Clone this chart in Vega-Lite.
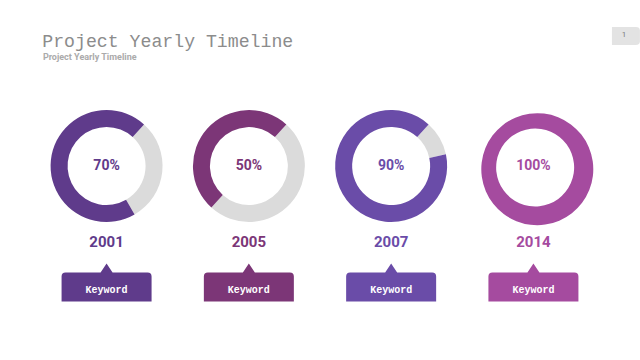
{
  "$schema": "https://vega.github.io/schema/vega-lite/v6.json",
  "width": 640,
  "height": 360,
  "autosize": {"type": "fit", "contains": "padding"},
  "padding": 0,
  "background": "white",
  "config": {"view": {"stroke": null}},
  "datasets": {
    "items": [
      {"year": "2001", "pct": 70, "label": "70%", "keyword": "Keyword", "color": "#5F3B8B"},
      {"year": "2005", "pct": 50, "label": "50%", "keyword": "Keyword", "color": "#7C3677"},
      {"year": "2007", "pct": 90, "label": "90%", "keyword": "Keyword", "color": "#6A4CA8"},
      {"year": "2014", "pct": 100, "label": "100%", "keyword": "Keyword", "color": "#A54B9F"}
    ],
    "parts": [
      {"year": "2001", "part": "rest", "order": 0, "value": 30},
      {"year": "2001", "part": "done", "order": 1, "value": 70},
      {"year": "2005", "part": "rest", "order": 0, "value": 50},
      {"year": "2005", "part": "done", "order": 1, "value": 50},
      {"year": "2007", "part": "rest", "order": 0, "value": 10},
      {"year": "2007", "part": "done", "order": 1, "value": 90},
      {"year": "2014", "part": "rest", "order": 0, "value": 0},
      {"year": "2014", "part": "done", "order": 1, "value": 100}
    ],
    "header": [
      {"title": "Project Yearly Timeline", "subtitle": "Project Yearly Timeline", "page": "1"}
    ]
  },
  "layer": [
    {
      "data": {"name": "header"},
      "mark": {"type": "text", "align": "left", "baseline": "alphabetic", "font": "Liberation Mono", "fontSize": 18.2, "color": "#8C8C8C"},
      "encoding": {
        "x": {"datum": 0.066, "type": "quantitative", "scale": {"domain": [0, 1]}, "axis": null},
        "y": {"datum": 47, "type": "quantitative", "scale": {"domain": [0, 360], "reverse": true}, "axis": null},
        "text": {"field": "title"}
      }
    },
    {
      "data": {"name": "header"},
      "mark": {"type": "text", "align": "left", "baseline": "alphabetic", "font": "Roboto", "fontWeight": "bold", "fontSize": 9, "color": "#ABABAB"},
      "encoding": {
        "x": {"datum": 0.067, "type": "quantitative", "scale": {"domain": [0, 1]}, "axis": null},
        "y": {"datum": 60, "type": "quantitative", "scale": {"domain": [0, 360], "reverse": true}, "axis": null},
        "text": {"field": "subtitle"}
      }
    },
    {
      "data": {"name": "header"},
      "mark": {"type": "point", "shape": "M -1 -0.64 L 0.7 -0.64 Q 1 -0.64 1 -0.4 L 1 0.4 Q 1 0.64 0.7 0.64 L -1 0.64 Z", "size": 784, "filled": true, "opacity": 1, "color": "#E3E3E3", "strokeWidth": 0},
      "encoding": {
        "x": {"datum": 0.978, "type": "quantitative", "scale": {"domain": [0, 1]}, "axis": null},
        "y": {"datum": 36, "type": "quantitative", "scale": {"domain": [0, 360], "reverse": true}, "axis": null}
      }
    },
    {
      "data": {"name": "header"},
      "mark": {"type": "text", "align": "center", "baseline": "middle", "font": "Roboto", "fontSize": 8, "color": "#7A7A7A"},
      "encoding": {
        "x": {"datum": 0.975, "type": "quantitative", "scale": {"domain": [0, 1]}, "axis": null},
        "y": {"datum": 35, "type": "quantitative", "scale": {"domain": [0, 360], "reverse": true}, "axis": null},
        "text": {"field": "page"}
      }
    },
    {
      "data": {"name": "parts"},
      "transform": [
        {"stack": "value", "groupby": ["year"], "sort": [{"field": "order"}], "as": ["v0", "v1"]},
        {"filter": "datum.value > 0"}
      ],
      "mark": {"type": "arc", "radius": 56, "radius2": 39, "stroke": null},
      "encoding": {
        "x": {"field": "year", "type": "ordinal", "scale": {"type": "point", "padding": 0.749}, "axis": null},
        "y": {"datum": 166, "type": "quantitative", "scale": {"domain": [0, 360], "reverse": true}, "axis": null},
        "theta": {"field": "v0", "type": "quantitative", "scale": {"domain": [0, 100], "range": [0.733, 7.016]}},
        "theta2": {"field": "v1"},
        "color": {
          "field": "year",
          "type": "nominal",
          "scale": {"domain": ["2001", "2005", "2007", "2014"], "range": ["#5F3B8B", "#7C3677", "#6A4CA8", "#A54B9F"]},
          "legend": null,
          "condition": {"test": "datum.part === 'rest'", "value": "#DBDBDB"}
        }
      }
    },
    {
      "data": {"name": "items"},
      "mark": {"type": "text", "align": "center", "baseline": "middle", "font": "Roboto", "fontWeight": "bold", "fontSize": 14},
      "encoding": {
        "x": {"field": "year", "type": "ordinal", "scale": {"type": "point", "padding": 0.749}, "axis": null},
        "y": {"datum": 166, "type": "quantitative", "scale": {"domain": [0, 360], "reverse": true}, "axis": null},
        "text": {"field": "label"},
        "color": {"field": "year", "type": "nominal", "legend": null}
      }
    },
    {
      "data": {"name": "items"},
      "mark": {"type": "text", "align": "center", "baseline": "middle", "font": "Roboto", "fontWeight": "bold", "fontSize": 15},
      "encoding": {
        "x": {"field": "year", "type": "ordinal", "scale": {"type": "point", "padding": 0.749}, "axis": null},
        "y": {"datum": 242, "type": "quantitative", "scale": {"domain": [0, 360], "reverse": true}, "axis": null},
        "text": {"field": "year"},
        "color": {"field": "year", "type": "nominal", "legend": null}
      }
    },
    {
      "data": {"name": "items"},
      "mark": {"type": "point", "shape": "M -1 0.322 L -1 -0.233 Q -1 -0.322 -0.911 -0.322 L -0.133 -0.322 L 0 -0.522 L 0.133 -0.322 L 0.911 -0.322 Q 1 -0.322 1 -0.233 L 1 0.322 Z", "size": 8100, "filled": true, "opacity": 1, "strokeWidth": 0},
      "encoding": {
        "x": {"field": "year", "type": "ordinal", "scale": {"type": "point", "padding": 0.749}, "axis": null},
        "y": {"datum": 287, "type": "quantitative", "scale": {"domain": [0, 360], "reverse": true}, "axis": null},
        "color": {"field": "year", "type": "nominal", "legend": null}
      }
    },
    {
      "data": {"name": "items"},
      "mark": {"type": "text", "align": "center", "baseline": "middle", "font": "Liberation Mono", "fontWeight": "bold", "fontSize": 10, "color": "white"},
      "encoding": {
        "x": {"field": "year", "type": "ordinal", "scale": {"type": "point", "padding": 0.749}, "axis": null},
        "y": {"datum": 290, "type": "quantitative", "scale": {"domain": [0, 360], "reverse": true}, "axis": null},
        "text": {"field": "keyword"}
      }
    }
  ],
  "resolve": {"scale": {"x": "independent"}}
}
